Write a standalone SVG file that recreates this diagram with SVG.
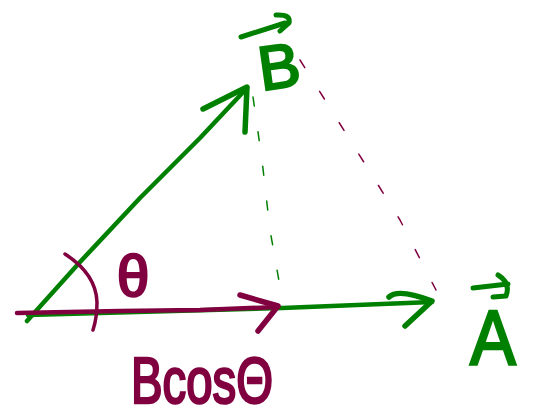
<svg xmlns="http://www.w3.org/2000/svg" width="538" height="418" viewBox="0 0 538 418">
<style>
.g{stroke:#008000;fill:none;stroke-linecap:round;stroke-linejoin:round}
.m{stroke:#800040;fill:none;stroke-linecap:round;stroke-linejoin:round}
.tg{fill:#008000;stroke:#008000;stroke-width:2.5;font-family:"Liberation Sans",Arial,sans-serif}
.tm{fill:#800040;stroke:#800040;stroke-width:2.5;font-family:"Liberation Sans",Arial,sans-serif}
</style>
<rect width="538" height="418" fill="#fff"/>
<g id="connectors">
  <path class="g" stroke-width="1.5" stroke-dasharray="9 26" d="M253,97 L262,160 L270,230 L282,298"/>
  <path class="m" stroke-width="1.5" stroke-dasharray="9 28" d="M300,60 L350,140 L400,220 L436,290"/>
  <path class="g" stroke-width="4.5" d="M27,321 L80,262 L140,198 L200,138 L247,88"/>
  <path class="g" stroke-width="5.5" d="M203,109 L247,87 L245,132"/>
  <path class="g" stroke-width="4.5" d="M28,315 L282,308 L432,302"/>
  <path class="g" stroke-width="5.5" d="M389,297 Q398,288 432,301 L405,326"/>
  <path class="m" stroke-width="4.5" d="M17,313 L120,311 L200,310 L278,307"/>
  <path class="m" stroke-width="5.5" d="M240,295 L278,306 L258,331"/>
  <path class="m" stroke-width="3.5" d="M65,254 Q96,274 97,302 Q97,318 93,330"/>
</g>
<g id="label-theta">
  <text class="tm" x="117" y="296" font-size="58">θ</text>
</g>
<g id="label-B">
  <path class="g" stroke-width="5" d="M241,37 L285,23 M276,15 Q291,14 289,23 L280,31"/>
  <text class="tg" x="258" y="88" font-size="62" transform="rotate(-8 278 65)">B</text>
</g>
<g id="label-A">
  <path class="g" stroke-width="5" d="M473,288 L508,284 M498,275 Q511,283 506,296 L493,297"/>
  <text class="tg" font-size="78" transform="translate(470,365) scale(0.88,1)">A</text>
</g>
<g id="label-Bcos">
  <text class="tm" font-size="64" transform="translate(131,403) scale(0.74,1)">BcosΘ</text>
</g>
</svg>
